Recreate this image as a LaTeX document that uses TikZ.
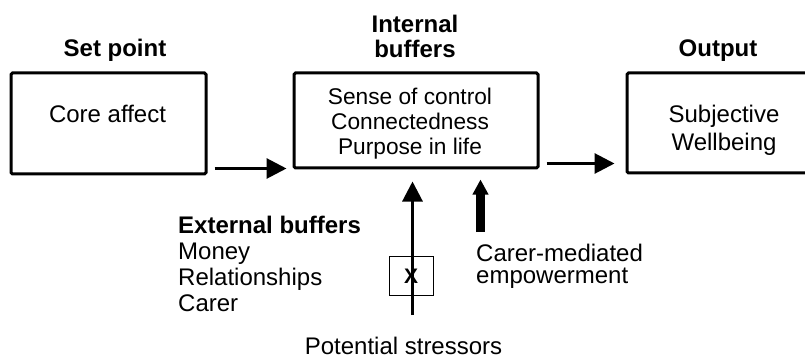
\documentclass[tikz,border=0pt]{standalone}
\usepackage{fontspec}
\setmainfont{Liberation Sans}
\usetikzlibrary{arrows.meta}
\begin{document}
\begin{tikzpicture}[x=1pt,y=-1pt,
  box/.style={draw, line width=3pt, rounded corners=1.5pt, inner sep=0pt},
  ttl/.style={font=\fontsize{24}{25}\selectfont\bfseries, inner sep=0pt},
  txt/.style={font=\fontsize{24}{25}\selectfont, inner sep=0pt},
  arr/.style={line width=3pt, -{Triangle[length=20pt,width=20pt]}},
  thickarr/.style={line width=8.5pt, -{Triangle[length=15pt,width=15pt]}}]
\useasboundingbox (0,0) rectangle (805,358);
% boxes
\node[box, minimum width=195pt, minimum height=101pt] (b1) at (108.5,123.5) {};
\node[box, minimum width=244pt, minimum height=95pt] (b2) at (416,120.5) {};
\node[box, minimum width=190pt, minimum height=100pt] (b3) at (722,123) {};
% titles
\node[ttl, anchor=base] (t1) at (115,57) {Set point};
\node[ttl, anchor=north, align=center] (t2) at (415,14.8) {Internal\\buffers};
\node[ttl, anchor=base] (t3) at (718,57) {Output};
% box texts
\node[txt, anchor=base] (c1) at (107.5,123) {Core affect};
\node[inner sep=0pt, anchor=north, align=center, font=\fontsize{22.7}{25.3}\selectfont] (c2) at (410,87.7) {Sense of control\\Connectedness\\Purpose in life};
\node[inner sep=0pt, anchor=north, align=center, font=\fontsize{24}{28}\selectfont] (c3) at (724,104.5) {Subjective\\Wellbeing};
% main arrows
\coordinate (a1s) at ([shift={(7,-7)}]b1.south east);
\draw[arr, shorten >=6pt] (a1s) -- (a1s -| b2.west);
\coordinate (a2s) at ([shift={(7,-6)}]b2.south east);
\draw[arr, shorten >=11pt] (a2s) -- (a2s -| b3.west);
% external buffers
\node[anchor=north west, align=left, inner sep=0pt, font=\fontsize{24}{26}\selectfont] (ext) at (178,215.8)
  {\textbf{External buffers}\\Money\\Relationships\\Carer};
% stressors
\node[draw, line width=0.8pt, minimum width=44pt, minimum height=39pt, inner sep=0pt,
  font=\fontsize{21}{21}\selectfont\bfseries] (xb) at (411,276) {X};
\node[txt, anchor=base] (ps) at (403.5,354) {Potential stressors};
\coordinate (st) at (412.5,315);
\draw[arr, shorten >=12pt] (st) -- (st |- b2.south);
% carer-mediated
\coordinate (cm) at (480.5,232);
\draw[thickarr, shorten >=10pt] (cm) -- (cm |- b2.south);
\node[anchor=north west, align=left, inner sep=0pt, font=\fontsize{24}{22.5}\selectfont] (cme) at (476,243.8)
  {Carer-mediated\\empowerment};
\end{tikzpicture}
\end{document}
